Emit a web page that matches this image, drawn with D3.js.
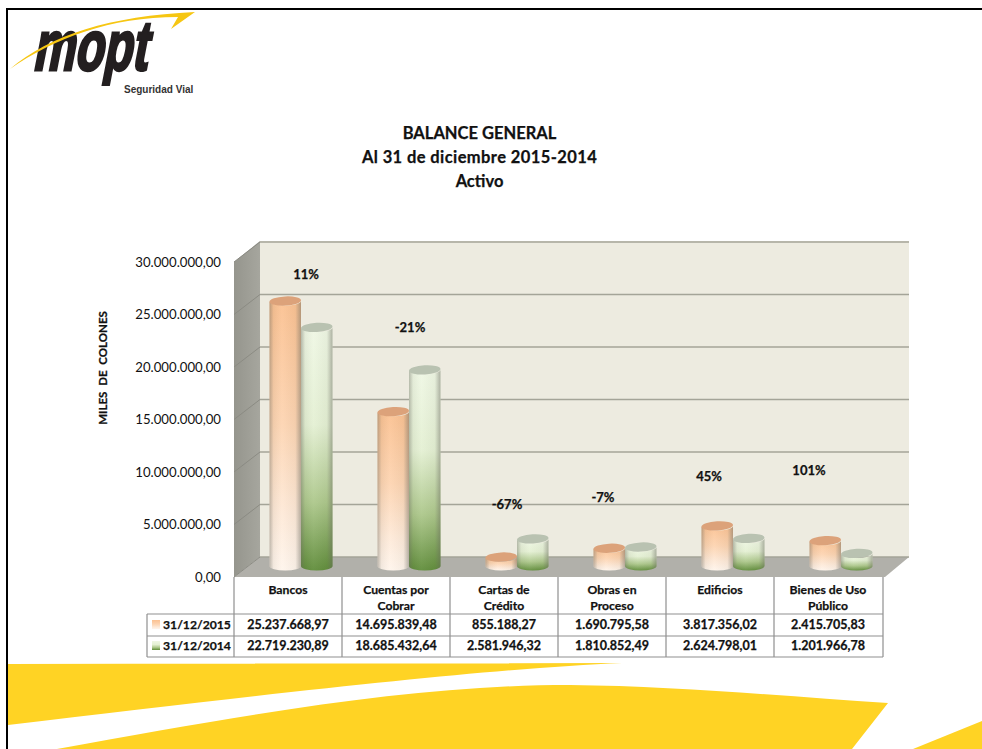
<!DOCTYPE html>
<html>
<head>
<meta charset="utf-8">
<script src="https://d3js.org/d3.v7.min.js"></script>
<style>
    html, body { margin: 0; padding: 0; background: #fff; overflow: hidden; }
    text { font-family: Lato, "Open Sans", sans-serif; fill: #111; }
    .heavy { font-weight: 700; stroke: #111; stroke-width: 0.25px; }
</style>
</head>
<body>
<div id="svg"></div>
<script>
const categories = ["Bancos", "Cuentas por|Cobrar", "Cartas de|Crédito", "Obras en|Proceso", "Edificios", "Bienes de Uso|Público"];
const seriesNames = ["31/12/2015", "31/12/2014"];
const values2015 = [25237668.97, 14695839.48, 855188.27, 1690795.58, 3817356.02, 2415705.83];
const values2014 = [22719230.89, 18685432.64, 2581946.32, 1810852.49, 2624798.01, 1201966.78];
const yTicks = [0, 5000000, 10000000, 15000000, 20000000, 25000000, 30000000];
const pctLabels = ["11%", "-21%", "-67%", "-7%", "45%", "101%"];
const titleLines = ["BALANCE GENERAL", "Al 31 de diciembre 2015-2014", "Activo"];

// where the percent labels sit
const pctPos = [[306, 275], [410, 328], [507, 505], [603, 498], [709, 477], [809, 471]];

const width = 982, height = 749;
const plot = { left: 234, right: 885, bottom: 577, top: 262 };
const depth = { x: 26, y: 20 };
const table = { left: 147, colLeft: 234, colRight: 883, top: 577, header: 614, row1: 636, row2: 657 };

const svg = d3.select("#svg").append("svg")
    .attr("width", width)
    .attr("height", height)
    .style("display", "block");

const defs = svg.append("defs");

function vGrad(id, stops, dir) {
    const g = defs.append("linearGradient").attr("id", id);
    if (dir === "h") g.attr("x1", 0).attr("x2", 1).attr("y1", 0).attr("y2", 0);
    else g.attr("x1", 0).attr("x2", 0).attr("y1", 0).attr("y2", 1);
    stops.forEach(s => g.append("stop").attr("offset", s[0]).attr("stop-color", s[1]).attr("stop-opacity", s[2] === undefined ? 1 : s[2]));
}
vGrad("g2015", [[0, "#fbc191"], [0.45, "#fdd4b1"], [0.8, "#feead9"], [1, "#fff5ec"]]);
vGrad("g2014", [[0, "#eff7e4"], [0.4, "#e4f0d3"], [0.72, "#acc78a"], [1, "#5f8c39"]]);
vGrad("shade", [[0, "#66665c", 0.42], [0.13, "#66665c", 0.08], [0.4, "#ffffff", 0.06], [0.82, "#66665c", 0.06], [1, "#66665c", 0.48]], "h");
vGrad("sideWall", [[0, "#95958d"], [1, "#a6a69e"]], "h");

const fmt = d3.formatLocale({ decimal: ",", thousands: ".", grouping: [3], currency: ["", ""] }).format(",.2f");

// background shapes
const bg = svg.append("g");
bg.append("path").attr("fill", "#ffd324")
    .attr("d", "M8,664 L622,663 C500,668 300,690 8,725 Z");
bg.append("path").attr("fill", "#ffd324")
    .attr("d", "M57,749 C260,712 420,685 570,685 C680,686 790,697 888,703 L852,749 Z");
bg.append("path").attr("fill", "#ffd324")
    .attr("d", "M913,749 L982,721 L982,749 Z");
bg.append("rect").attr("x", 6).attr("y", 8).attr("width", 2).attr("height", height - 8).attr("fill", "#000");
bg.append("rect").attr("x", 6).attr("y", 8).attr("width", width - 6).attr("height", 2).attr("fill", "#000");

// logo
const logo = svg.append("g");
logo.append("text")
    .attr("transform", "translate(32,70) skewX(-11) scale(0.67,1)")
    .style("font-family", "'Liberation Sans'")
    .style("font-weight", 700)
    .style("font-size", "70px")
    .style("fill", "#231f20")
    .style("stroke", "#231f20")
    .style("stroke-width", 3)
    .text("mopt");
logo.append("path").attr("fill", "#f6c612")
    .attr("d", "M10,69 C50,35 110,16 195,12 L171,29 L178,17 C110,17 55,38 10,69 Z");
logo.append("text")
    .attr("x", 124).attr("y", 93)
    .style("font-family", "'Liberation Sans'")
    .style("font-weight", 700)
    .style("font-size", "10px")
    .style("fill", "#333")
    .text("Seguridad Vial");

// title
svg.append("g").selectAll("text").data(titleLines).join("text")
    .attr("class", "heavy")
    .attr("x", 479.5)
    .attr("y", (d, i) => 139 + i * 24)
    .attr("text-anchor", "middle")
    .style("font-size", "16.5px")
    .style("letter-spacing", (d, i) => i === 1 ? "0.4px" : "0")
    .text(d => d);

// scales
const yScale = d3.scaleLinear().domain([0, 30000000]).range([plot.bottom, plot.top]);
const xScale = d3.scaleBand().domain(categories).range([plot.left + 13, plot.left + 13 + 648]);
const barW = 63;
const xSeries = d3.scaleBand().domain(seriesNames).range([0, barW]);
const colScale = d3.scaleBand().domain(categories).range([table.colLeft, table.colLeft + 648]);

// 3d box
const box = svg.append("g");
box.append("rect")
    .attr("x", plot.left + depth.x).attr("y", plot.top - depth.y - 1)
    .attr("width", plot.right + depth.y + 4 - plot.left - depth.x)
    .attr("height", plot.bottom - plot.top + 1)
    .attr("fill", "#edebe0");
box.append("path").attr("fill", "url(#sideWall)")
    .attr("d", `M${plot.left},${plot.top} L${plot.left + depth.x},${plot.top - depth.y - 1} L${plot.left + depth.x},${plot.bottom - depth.y} L${plot.left},${plot.bottom} Z`);
box.append("path").attr("fill", "#b1b0aa")
    .attr("d", `M${plot.left},${plot.bottom} L${plot.right},${plot.bottom} L${plot.right + 24},${plot.bottom - depth.y} L${plot.left + depth.x},${plot.bottom - depth.y} Z`);

box.append("g").selectAll("line").data(yTicks).join("line")
    .attr("x1", plot.left + depth.x).attr("x2", plot.right + 24)
    .attr("y1", d => yScale(d) - depth.y).attr("y2", d => yScale(d) - depth.y)
    .attr("stroke", "#a4a498").attr("stroke-width", 1.4);
box.append("g").selectAll("line").data(yTicks).join("line")
    .attr("x1", plot.left).attr("x2", plot.left + depth.x)
    .attr("y1", d => yScale(d)).attr("y2", d => yScale(d) - depth.y)
    .attr("stroke", "#8b8b83").attr("stroke-width", 1);

// axis
svg.append("g")
    .attr("transform", `translate(${plot.left - 7},0)`)
    .call(d3.axisLeft(yScale).tickValues(yTicks).tickFormat(fmt).tickSize(0).tickPadding(6))
    .call(g => g.select(".domain").remove())
    .call(g => g.selectAll("text").style("font-size", "13.2px").style("font-family", "Lato"));

svg.append("text")
    .attr("class", "heavy")
    .attr("transform", "translate(107,368) rotate(-90)")
    .attr("text-anchor", "middle")
    .style("font-size", "11.5px")
    .style("word-spacing", "3px")
    .text("MILES DE COLONES");

// cylinders
const barBase = plot.bottom - 11;
const rx = () => xSeries.bandwidth() / 2, ry = 4.6;

function cylinder(x, yTop, yBot) {
    const w = xSeries.bandwidth();
    return `M${x},${yTop} A${w / 2},${ry} 0 0 0 ${x + w},${yTop} L${x + w},${yBot} A${w / 2},${ry} 0 0 1 ${x},${yBot} Z`;
}

const rows = categories.map((c, i) => [
    { cat: c, series: seriesNames[0], value: values2015[i], fill: "url(#g2015)", cap: "#dca27a" },
    { cat: c, series: seriesNames[1], value: values2014[i], fill: "url(#g2014)", cap: "#b9c2b1" }
]).flat();

const barX = d => xScale(d.cat) + xScale.bandwidth() / 2 - barW / 2 + xSeries(d.series);
const barTop = d => barBase - (yScale(0) - yScale(d.value));

const bars = svg.append("g").selectAll("g").data(rows).join("g");
bars.append("path").attr("d", d => cylinder(barX(d), barTop(d), barBase)).attr("fill", d => d.fill);
bars.append("path").attr("d", d => cylinder(barX(d), barTop(d), barBase)).attr("fill", "url(#shade)");
bars.append("ellipse")
    .attr("cx", d => barX(d) + rx())
    .attr("cy", d => barTop(d))
    .attr("rx", rx())
    .attr("ry", ry)
    .attr("transform", d => `rotate(-3 ${barX(d) + rx()} ${barTop(d)})`)
    .attr("fill", d => d.cap);

// percent labels
svg.append("g").selectAll("text").data(pctLabels).join("text")
    .attr("class", "heavy")
    .attr("x", (d, i) => pctPos[i][0])
    .attr("y", (d, i) => pctPos[i][1] + 4)
    .attr("text-anchor", "middle")
    .style("font-size", "13px")
    .text(d => d);

// data table
const tbl = svg.append("g");
const gridColor = "#8f8f8f";
const colEdges = categories.map(c => colScale(c)).concat([table.colRight]);

tbl.append("g").selectAll("line").data(colEdges).join("line")
    .attr("x1", d => d).attr("x2", d => d)
    .attr("y1", table.top).attr("y2", table.row2)
    .attr("stroke", gridColor).attr("stroke-width", 1.2);
tbl.append("g").selectAll("line").data([table.header, table.row1, table.row2]).join("line")
    .attr("x1", table.left).attr("x2", table.colRight)
    .attr("y1", d => d).attr("y2", d => d)
    .attr("stroke", gridColor).attr("stroke-width", 1.2);
tbl.append("line")
    .attr("x1", table.left).attr("x2", table.left)
    .attr("y1", table.header).attr("y2", table.row2)
    .attr("stroke", gridColor).attr("stroke-width", 1.2);

const cx = c => colScale(c) + colScale.bandwidth() / 2;

categories.forEach(c => {
    c.split("|").forEach((line, i) => {
        tbl.append("text")
            .attr("class", "heavy")
            .attr("x", cx(c))
            .attr("y", table.top + 17 + i * 16)
            .attr("text-anchor", "middle")
            .style("font-size", "12.2px")
            .text(line);
    });
});

[values2015, values2014].forEach((vals, r) => {
    const rowY = r === 0 ? 629 : 650;
    tbl.append("g").selectAll("text").data(vals).join("text")
        .attr("class", "heavy")
        .attr("x", (d, i) => cx(categories[i]))
        .attr("y", rowY)
        .attr("text-anchor", "middle")
        .style("font-size", "12.5px")
        .text(d => fmt(d));
    tbl.append("rect")
        .attr("x", 152).attr("y", rowY - 9)
        .attr("width", 8).attr("height", 9)
        .attr("fill", r === 0 ? "url(#g2015)" : "url(#g2014)");
    tbl.append("text")
        .attr("class", "heavy")
        .attr("x", 163).attr("y", rowY)
        .style("font-size", "12.2px")
        .text(seriesNames[r]);
});
</script>
</body>
</html>
